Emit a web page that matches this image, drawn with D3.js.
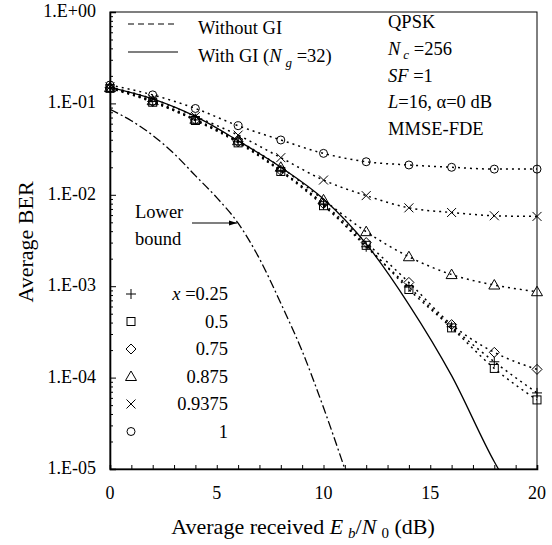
<!DOCTYPE html>
<html>
<head>
<meta charset="utf-8">
<script src="https://cdn.jsdelivr.net/npm/d3@7"></script>
<style>
  body { margin: 0; background: #fff; }
  svg text { font-family: "Liberation Serif", "Times New Roman", serif; fill: #000; }
</style>
</head>
<body>
<div id="chart"></div>
<script>
// Eb/N0 values (dB) where markers are drawn
const snr = [0, 2, 4, 6, 8, 10, 12, 14, 16, 18, 20];

// BER without GI, one array per x value
const berX025 = [0.148, 0.105, 0.066, 0.038, 0.0185, 0.0078, 0.0027, 0.00098, 0.00036, 0.000149, 0.000068];
const berX05 = [0.146, 0.103, 0.065, 0.037, 0.018, 0.0076, 0.0028, 0.00092, 0.00035, 0.000126, 0.000057];
const berX075 = [0.148, 0.105, 0.066, 0.038, 0.0185, 0.008, 0.003, 0.0011, 0.00038, 0.000189, 0.000123];
const berX0875 = [0.149, 0.107, 0.067, 0.039, 0.020, 0.0088, 0.00395, 0.0021, 0.00134, 0.00103, 0.00087];
const berX09375 = [0.151, 0.112, 0.072, 0.045, 0.0255, 0.0145, 0.0098, 0.0072, 0.0064, 0.0059, 0.0058];
const berX1 = [0.159, 0.124, 0.088, 0.057, 0.0398, 0.0284, 0.023, 0.0212, 0.020, 0.0191, 0.0191];

// with GI (Ng=32)
const snrGI = [0, 2, 4, 6, 8, 10, 12, 14, 16, 18, 18.5];
const berGI = [0.15, 0.112, 0.072, 0.039, 0.02, 0.009, 0.0029, 0.00063, 0.000105, 0.000012, 0.0000075];

// lower bound
const snrLB = [0, 1, 2, 3, 4, 5, 6, 7, 8, 9, 10, 11];
const berLB = [0.086, 0.0646, 0.0447, 0.0282, 0.0162, 0.0093, 0.0049, 0.002, 0.00065, 0.000195, 0.000047, 0.00001];

const xLabels = ["x =0.25", "0.5", "0.75", "0.875", "0.9375", "1"];
const yTicks = [1, 1e-1, 1e-2, 1e-3, 1e-4, 1e-5];
const yTickLabels = ["1.E+00", "1.E-01", "1.E-02", "1.E-03", "1.E-04", "1.E-05"];
const xTicks = [0, 5, 10, 15, 20];

const width = 552, height = 545;
const m = {left: 110, right: 537, top: 12, bottom: 469};

const svg = d3.select("#chart").append("svg")
  .attr("width", width)
  .attr("height", height);

const x = d3.scaleLinear().domain([0, 20]).range([m.left, m.right]);
const y = d3.scaleLog().domain([1e-5, 1]).range([m.bottom, m.top]);

const defs = svg.append("defs");
defs.append("clipPath").attr("id", "clip")
  .append("rect")
    .attr("x", m.left).attr("y", m.top)
    .attr("width", m.right - m.left).attr("height", m.bottom - m.top);

// frame
svg.append("rect")
  .attr("x", m.left).attr("y", m.top)
  .attr("width", m.right - m.left).attr("height", m.bottom - m.top)
  .attr("fill", "none").attr("stroke", "#000").attr("stroke-width", 1);

// y axis with log minor ticks pointing inside
const yMinor = [];
for (let e = -5; e < 0; e++) for (let k = 2; k <= 9; k++) yMinor.push(k * Math.pow(10, e));
svg.append("g")
  .attr("transform", "translate(" + m.left + ",0)")
  .call(d3.axisRight(y).tickValues(yMinor).tickSize(3).tickFormat(""))
  .call(g => g.select(".domain").remove());
svg.append("g")
  .attr("transform", "translate(" + m.left + ",0)")
  .call(d3.axisRight(y).tickValues(yTicks).tickSize(6).tickFormat(""))
  .call(g => g.select(".domain").attr("stroke-width", 1.6));
svg.append("g").selectAll("text")
  .data(yTicks)
  .join("text")
    .attr("x", 96)
    .attr("y", d => y(d) + 5)
    .attr("text-anchor", "end")
    .attr("font-size", 18)
    .text((d, i) => yTickLabels[i]);

// x axis, ticks every 1 dB pointing up
svg.append("g")
  .attr("transform", "translate(0," + m.bottom + ")")
  .call(d3.axisTop(x).ticks(20).tickSize(4).tickFormat(""))
  .call(g => g.select(".domain").attr("stroke-width", 1.6));
svg.append("g").selectAll("text")
  .data(xTicks)
  .join("text")
    .attr("x", d => x(d))
    .attr("y", 499)
    .attr("text-anchor", "middle")
    .attr("font-size", 18)
    .text(d => d);

// axis titles
const xt = svg.append("text")
  .attr("x", 303).attr("y", 534)
  .attr("text-anchor", "middle")
  .attr("font-size", 22);
xt.append("tspan").text("Average received ");
xt.append("tspan").attr("font-style", "italic").text("E");
xt.append("tspan").attr("font-style", "italic").attr("font-size", 15).attr("dx", 5).attr("dy", 4).text("b");
xt.append("tspan").attr("dy", -4).text("/");
xt.append("tspan").attr("font-style", "italic").text("N");
xt.append("tspan").attr("font-size", 15).attr("dx", 5).attr("dy", 4).text("0");
xt.append("tspan").attr("dy", -4).text(" (dB)");

svg.append("text")
  .attr("transform", "translate(33,242) rotate(-90)")
  .attr("text-anchor", "middle")
  .attr("font-size", 22)
  .text("Average BER");

const plot = svg.append("g").attr("clip-path", "url(#clip)");

const line = d3.line()
  .x(d => x(d[0]))
  .y(d => y(d[1]))
  .curve(d3.curveMonotoneX);

// series without GI
const series = [
  { vals: berX025, shape: "plus" },
  { vals: berX05, shape: "square" },
  { vals: berX075, shape: "diamond" },
  { vals: berX0875, shape: "triangle" },
  { vals: berX09375, shape: "cross" },
  { vals: berX1, shape: "circle" }
];

series.forEach(s => {
  plot.append("path")
    .datum(snr.map((v, i) => [v, s.vals[i]]))
    .attr("d", line)
    .attr("fill", "none")
    .attr("stroke", "#000")
    .attr("stroke-width", 1.5)
    .attr("stroke-dasharray", "2,4");
});

// with GI
plot.append("path")
  .datum(snrGI.map((v, i) => [v, berGI[i]]))
  .attr("d", line)
  .attr("fill", "none")
  .attr("stroke", "#000")
  .attr("stroke-width", 1.3);

// lower bound
plot.append("path")
  .datum(snrLB.map((v, i) => [v, berLB[i]]))
  .attr("d", line)
  .attr("fill", "none")
  .attr("stroke", "#000")
  .attr("stroke-width", 1.3)
  .attr("stroke-dasharray", "9,3,2,3");

function marker(g, shape, cx, cy) {
  const s = 4;
  let p;
  if (shape === "circle") {
    p = g.append("circle").attr("cx", cx).attr("cy", cy).attr("r", s);
  } else if (shape === "square") {
    p = g.append("rect").attr("x", cx - s).attr("y", cy - s).attr("width", 2 * s).attr("height", 2 * s);
  } else if (shape === "diamond") {
    p = g.append("path").attr("d", `M${cx},${cy - 5}L${cx + 5},${cy}L${cx},${cy + 5}L${cx - 5},${cy}Z`);
  } else if (shape === "triangle") {
    p = g.append("path").attr("d", `M${cx},${cy - 5.5}L${cx + 5.5},${cy + 4}L${cx - 5.5},${cy + 4}Z`);
  } else if (shape === "cross") {
    p = g.append("path").attr("d", `M${cx - 4.5},${cy - 4.5}L${cx + 4.5},${cy + 4.5}M${cx + 4.5},${cy - 4.5}L${cx - 4.5},${cy + 4.5}`);
  } else {
    p = g.append("path").attr("d", `M${cx - 5},${cy}L${cx + 5},${cy}M${cx},${cy - 5}L${cx},${cy + 5}`);
  }
  p.attr("fill", "none").attr("stroke", "#000").attr("stroke-width", 1);
}

const markG = svg.append("g");
series.forEach(s => {
  snr.forEach((v, i) => marker(markG, s.shape, x(v), y(s.vals[i])));
});

// legend: line styles
svg.append("line")
  .attr("x1", 128).attr("x2", 178).attr("y1", 24).attr("y2", 24)
  .attr("stroke", "#000").attr("stroke-width", 1.2).attr("stroke-dasharray", "6,4");
svg.append("text").attr("x", 198).attr("y", 34).attr("font-size", 18.5).text("Without GI");
svg.append("line")
  .attr("x1", 128).attr("x2", 178).attr("y1", 52).attr("y2", 52)
  .attr("stroke", "#000").attr("stroke-width", 1.2);
const gi = svg.append("text").attr("x", 198).attr("y", 62).attr("font-size", 18.5);
gi.append("tspan").text("With GI (");
gi.append("tspan").attr("font-style", "italic").text("N");
gi.append("tspan").attr("font-style", "italic").attr("font-size", 13).attr("dx", 4).attr("dy", 5).text("g");
gi.append("tspan").attr("dy", -5).text(" =32)");

// legend: markers
const legG = svg.append("g");
series.forEach((s, i) => {
  const cy = 294 + 27.5 * i;
  marker(legG, s.shape, 131, cy);
  const t = legG.append("text").attr("x", 228).attr("y", cy + 6)
    .attr("text-anchor", "end").attr("font-size", 18.5);
  if (i === 0) {
    t.append("tspan").attr("font-style", "italic").text("x");
    t.append("tspan").text(" =0.25");
  } else {
    t.text(xLabels[i]);
  }
});

// parameters text
const px = 388;
svg.append("text").attr("x", px).attr("y", 28).attr("font-size", 18.5).text("QPSK");
const nc = svg.append("text").attr("x", px).attr("y", 55).attr("font-size", 18.5);
nc.append("tspan").attr("font-style", "italic").text("N");
nc.append("tspan").attr("font-style", "italic").attr("font-size", 13).attr("dx", 3).attr("dy", 4).text("c");
nc.append("tspan").attr("dy", -4).text(" =256");
const sf = svg.append("text").attr("x", px).attr("y", 82).attr("font-size", 18.5);
sf.append("tspan").attr("font-style", "italic").text("SF");
sf.append("tspan").text(" =1");
const lt = svg.append("text").attr("x", px).attr("y", 108).attr("font-size", 18.5);
lt.append("tspan").attr("font-style", "italic").text("L");
lt.append("tspan").text("=16, α=0 dB");
svg.append("text").attr("x", px).attr("y", 135).attr("font-size", 18.5).text("MMSE-FDE");

// lower bound annotation
svg.append("text").attr("x", 135).attr("y", 218).attr("font-size", 18.5).text("Lower");
svg.append("text").attr("x", 135).attr("y", 245).attr("font-size", 18.5).text("bound");
defs.append("marker")
  .attr("id", "arrow").attr("viewBox", "0 0 10 10")
  .attr("refX", 10).attr("refY", 5)
  .attr("markerWidth", 7).attr("markerHeight", 7)
  .attr("orient", "auto")
  .append("path").attr("d", "M0,2L10,5L0,8Z").attr("fill", "#000");
svg.append("line")
  .attr("x1", 192).attr("y1", 223).attr("x2", 237).attr("y2", 223)
  .attr("stroke", "#000").attr("stroke-width", 1.2)
  .attr("marker-end", "url(#arrow)");
</script>
</body>
</html>
